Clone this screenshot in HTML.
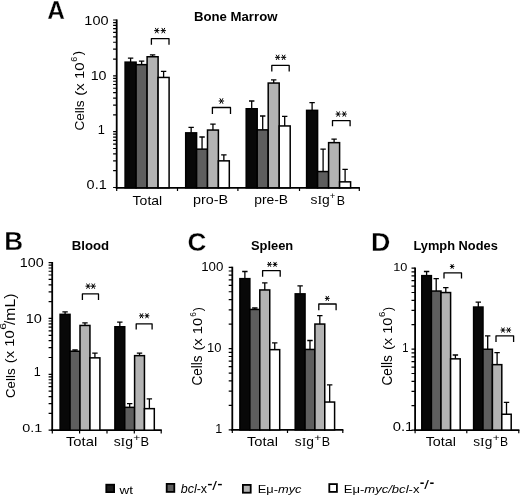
<!DOCTYPE html>
<html><head><meta charset="utf-8"><style>
html,body{margin:0;padding:0;background:#fff;width:520px;height:497px;overflow:hidden}
svg{display:block;filter:grayscale(100%)}
text{font-family:"Liberation Sans", sans-serif;fill:#000}
</style></head><body>
<svg width="520" height="497" viewBox="0 0 520 497">
<rect width="520" height="497" fill="#fff"/>
<line x1="116.7" y1="19.40999999999999" x2="116.7" y2="188.70000000000002" stroke="#000" stroke-width="1.8"/>
<path d="M113.10 187.50H116.70 M113.10 170.69H116.70 M113.10 160.86H116.70 M113.10 153.89H116.70 M113.10 148.48H116.70 M113.10 144.06H116.70 M113.10 140.32H116.70 M113.10 137.08H116.70 M113.10 134.22H116.70 M113.10 131.67H116.70 M113.10 114.86H116.70 M113.10 105.03H116.70 M113.10 98.06H116.70 M113.10 92.65H116.70 M113.10 88.23H116.70 M113.10 84.49H116.70 M113.10 81.25H116.70 M113.10 78.39H116.70 M113.10 75.84H116.70 M113.10 59.03H116.70 M113.10 49.20H116.70 M113.10 42.23H116.70 M113.10 36.82H116.70 M113.10 32.40H116.70 M113.10 28.66H116.70 M113.10 25.42H116.70 M113.10 22.56H116.70 M113.10 20.01H116.70" stroke="#000" stroke-width="1.2" fill="none"/>
<line x1="115.8" y1="187.8" x2="359.90000000000003" y2="187.8" stroke="#000" stroke-width="1.8"/>
<path d="M116.70 187.80V191.00 M177.50 187.80V191.00 M237.90 187.80V191.00 M299.50 187.80V191.00 M359.30 187.80V191.00" stroke="#000" stroke-width="1.2" fill="none"/>
<path d="M130.60 62.15V58.20M127.90 58.20H133.30" stroke="#000" stroke-width="1.3" fill="none"/>
<path d="M141.60 64.65V61.10M138.90 61.10H144.30" stroke="#000" stroke-width="1.3" fill="none"/>
<path d="M152.60 56.75V54.80M149.90 54.80H155.30" stroke="#000" stroke-width="1.3" fill="none"/>
<path d="M163.60 77.45V71.40M160.90 71.40H166.30" stroke="#000" stroke-width="1.3" fill="none"/>
<rect x="125.10" y="62.15" width="11.00" height="125.65" fill="#080808" stroke="#000" stroke-width="1.5"/>
<rect x="136.10" y="64.65" width="11.00" height="123.15" fill="#5e5e5e" stroke="#000" stroke-width="1.5"/>
<rect x="147.10" y="56.75" width="11.00" height="131.05" fill="#b3b3b3" stroke="#000" stroke-width="1.5"/>
<rect x="158.10" y="77.45" width="11.00" height="110.35" fill="#ffffff" stroke="#000" stroke-width="1.5"/>
<path d="M191.15 132.85V127.40M188.45 127.40H193.85" stroke="#000" stroke-width="1.3" fill="none"/>
<path d="M202.05 149.15V137.00M199.35 137.00H204.75" stroke="#000" stroke-width="1.3" fill="none"/>
<path d="M212.95 130.05V124.20M210.25 124.20H215.65" stroke="#000" stroke-width="1.3" fill="none"/>
<path d="M223.85 160.85V154.90M221.15 154.90H226.55" stroke="#000" stroke-width="1.3" fill="none"/>
<rect x="185.70" y="132.85" width="10.90" height="54.95" fill="#080808" stroke="#000" stroke-width="1.5"/>
<rect x="196.60" y="149.15" width="10.90" height="38.65" fill="#5e5e5e" stroke="#000" stroke-width="1.5"/>
<rect x="207.50" y="130.05" width="10.90" height="57.75" fill="#b3b3b3" stroke="#000" stroke-width="1.5"/>
<rect x="218.40" y="160.85" width="10.90" height="26.95" fill="#ffffff" stroke="#000" stroke-width="1.5"/>
<path d="M251.70 108.75V101.00M249.00 101.00H254.40" stroke="#000" stroke-width="1.3" fill="none"/>
<path d="M262.70 129.85V116.00M260.00 116.00H265.40" stroke="#000" stroke-width="1.3" fill="none"/>
<path d="M273.70 83.05V79.90M271.00 79.90H276.40" stroke="#000" stroke-width="1.3" fill="none"/>
<path d="M284.70 125.95V116.40M282.00 116.40H287.40" stroke="#000" stroke-width="1.3" fill="none"/>
<rect x="246.20" y="108.75" width="11.00" height="79.05" fill="#080808" stroke="#000" stroke-width="1.5"/>
<rect x="257.20" y="129.85" width="11.00" height="57.95" fill="#5e5e5e" stroke="#000" stroke-width="1.5"/>
<rect x="268.20" y="83.05" width="11.00" height="104.75" fill="#b3b3b3" stroke="#000" stroke-width="1.5"/>
<rect x="279.20" y="125.95" width="11.00" height="61.85" fill="#ffffff" stroke="#000" stroke-width="1.5"/>
<path d="M312.10 110.35V102.70M309.40 102.70H314.80" stroke="#000" stroke-width="1.3" fill="none"/>
<path d="M323.10 171.55V149.10M320.40 149.10H325.80" stroke="#000" stroke-width="1.3" fill="none"/>
<path d="M334.10 142.65V139.10M331.40 139.10H336.80" stroke="#000" stroke-width="1.3" fill="none"/>
<path d="M345.10 181.85V169.30M342.40 169.30H347.80" stroke="#000" stroke-width="1.3" fill="none"/>
<rect x="306.60" y="110.35" width="11.00" height="77.45" fill="#080808" stroke="#000" stroke-width="1.5"/>
<rect x="317.60" y="171.55" width="11.00" height="16.25" fill="#5e5e5e" stroke="#000" stroke-width="1.5"/>
<rect x="328.60" y="142.65" width="11.00" height="45.15" fill="#b3b3b3" stroke="#000" stroke-width="1.5"/>
<rect x="339.60" y="181.85" width="11.00" height="5.95" fill="#ffffff" stroke="#000" stroke-width="1.5"/>
<path d="M151.4 44.7V38.6H169.0V44.7" stroke="#000" stroke-width="1.3" fill="none" stroke-linejoin="round"/>
<path d="M154.20 30.60L159.40 30.60 M155.27 27.95L158.33 33.25 M158.33 27.95L155.27 33.25" stroke="#000" stroke-width="1.0" fill="none"/>
<path d="M160.70 30.60L165.90 30.60 M161.77 27.95L164.83 33.25 M164.83 27.95L161.77 33.25" stroke="#000" stroke-width="1.0" fill="none"/>
<path d="M212.4 113.9V107.5H230.5V113.9" stroke="#000" stroke-width="1.3" fill="none" stroke-linejoin="round"/>
<path d="M218.70 101.00L224.10 101.00 M219.81 98.25L222.99 103.75 M222.99 98.25L219.81 103.75" stroke="#000" stroke-width="1.0" fill="none"/>
<path d="M271.8 71.6V65.4H289.2V71.6" stroke="#000" stroke-width="1.3" fill="none" stroke-linejoin="round"/>
<path d="M275.10 57.35L280.20 57.35 M276.15 54.75L279.15 59.95 M279.15 54.75L276.15 59.95" stroke="#000" stroke-width="1.0" fill="none"/>
<path d="M281.10 57.35L286.20 57.35 M282.15 54.75L285.15 59.95 M285.15 54.75L282.15 59.95" stroke="#000" stroke-width="1.0" fill="none"/>
<path d="M332.5 126.2V120.6H350.1V126.2" stroke="#000" stroke-width="1.3" fill="none" stroke-linejoin="round"/>
<path d="M335.60 114.05L340.70 114.05 M336.65 111.45L339.65 116.65 M339.65 111.45L336.65 116.65" stroke="#000" stroke-width="1.0" fill="none"/>
<path d="M341.70 114.05L346.80 114.05 M342.75 111.45L345.75 116.65 M345.75 111.45L342.75 116.65" stroke="#000" stroke-width="1.0" fill="none"/>
<line x1="52.2" y1="261.99" x2="52.2" y2="431.09999999999997" stroke="#000" stroke-width="1.8"/>
<path d="M48.60 430.20H52.20 M48.60 413.38H52.20 M48.60 403.54H52.20 M48.60 396.56H52.20 M48.60 391.15H52.20 M48.60 386.72H52.20 M48.60 382.98H52.20 M48.60 379.74H52.20 M48.60 376.89H52.20 M48.60 374.33H52.20 M48.60 357.51H52.20 M48.60 347.67H52.20 M48.60 340.69H52.20 M48.60 335.28H52.20 M48.60 330.85H52.20 M48.60 327.11H52.20 M48.60 323.87H52.20 M48.60 321.02H52.20 M48.60 318.46H52.20 M48.60 301.64H52.20 M48.60 291.80H52.20 M48.60 284.82H52.20 M48.60 279.41H52.20 M48.60 274.98H52.20 M48.60 271.24H52.20 M48.60 268.00H52.20 M48.60 265.15H52.20 M48.60 262.59H52.20" stroke="#000" stroke-width="1.2" fill="none"/>
<line x1="51.300000000000004" y1="430.2" x2="161.79999999999998" y2="430.2" stroke="#000" stroke-width="1.8"/>
<path d="M52.30 430.20V433.40 M79.60 430.20V433.40 M107.00 430.20V433.40 M134.30 430.20V433.40 M161.20 430.20V433.40" stroke="#000" stroke-width="1.2" fill="none"/>
<path d="M65.08 314.35V311.80M62.38 311.80H67.78" stroke="#000" stroke-width="1.3" fill="none"/>
<path d="M75.02 351.25V350.00M72.32 350.00H77.72" stroke="#000" stroke-width="1.3" fill="none"/>
<path d="M84.97 325.45V322.90M82.27 322.90H87.67" stroke="#000" stroke-width="1.3" fill="none"/>
<path d="M94.92 357.85V353.10M92.22 353.10H97.62" stroke="#000" stroke-width="1.3" fill="none"/>
<rect x="60.10" y="314.35" width="9.95" height="115.85" fill="#080808" stroke="#000" stroke-width="1.5"/>
<rect x="70.05" y="351.25" width="9.95" height="78.95" fill="#5e5e5e" stroke="#000" stroke-width="1.5"/>
<rect x="80.00" y="325.45" width="9.95" height="104.75" fill="#b3b3b3" stroke="#000" stroke-width="1.5"/>
<rect x="89.95" y="357.85" width="9.95" height="72.35" fill="#ffffff" stroke="#000" stroke-width="1.5"/>
<path d="M119.83 326.75V322.20M117.12 322.20H122.53" stroke="#000" stroke-width="1.3" fill="none"/>
<path d="M129.68 407.35V403.60M126.98 403.60H132.38" stroke="#000" stroke-width="1.3" fill="none"/>
<path d="M139.53 355.65V353.10M136.83 353.10H142.22" stroke="#000" stroke-width="1.3" fill="none"/>
<path d="M149.38 408.65V398.80M146.68 398.80H152.07" stroke="#000" stroke-width="1.3" fill="none"/>
<rect x="114.90" y="326.75" width="9.85" height="103.45" fill="#080808" stroke="#000" stroke-width="1.5"/>
<rect x="124.75" y="407.35" width="9.85" height="22.85" fill="#5e5e5e" stroke="#000" stroke-width="1.5"/>
<rect x="134.60" y="355.65" width="9.85" height="74.55" fill="#b3b3b3" stroke="#000" stroke-width="1.5"/>
<rect x="144.45" y="408.65" width="9.85" height="21.55" fill="#ffffff" stroke="#000" stroke-width="1.5"/>
<path d="M82.4 299.9V293.9H98.5V299.9" stroke="#000" stroke-width="1.3" fill="none" stroke-linejoin="round"/>
<path d="M85.50 286.15L90.60 286.15 M86.55 283.55L89.55 288.75 M89.55 283.55L86.55 288.75" stroke="#000" stroke-width="1.0" fill="none"/>
<path d="M90.70 286.15L95.80 286.15 M91.75 283.55L94.75 288.75 M94.75 283.55L91.75 288.75" stroke="#000" stroke-width="1.0" fill="none"/>
<path d="M136.2 329.6V323.8H152.1V329.6" stroke="#000" stroke-width="1.3" fill="none" stroke-linejoin="round"/>
<path d="M139.10 315.80L143.91 315.80 M140.09 313.35L142.92 318.25 M142.92 313.35L140.09 318.25" stroke="#000" stroke-width="1.0" fill="none"/>
<path d="M144.59 315.80L149.40 315.80 M145.58 313.35L148.41 318.25 M148.41 313.35L145.58 318.25" stroke="#000" stroke-width="1.0" fill="none"/>
<line x1="232.3" y1="266.69999999999993" x2="232.3" y2="430.79999999999995" stroke="#000" stroke-width="1.8"/>
<path d="M228.70 429.90H232.30 M228.70 405.43H232.30 M228.70 391.11H232.30 M228.70 380.95H232.30 M228.70 373.07H232.30 M228.70 366.64H232.30 M228.70 361.19H232.30 M228.70 356.48H232.30 M228.70 352.32H232.30 M228.70 348.60H232.30 M228.70 324.13H232.30 M228.70 309.81H232.30 M228.70 299.65H232.30 M228.70 291.77H232.30 M228.70 285.34H232.30 M228.70 279.89H232.30 M228.70 275.18H232.30 M228.70 271.02H232.30 M228.70 267.30H232.30" stroke="#000" stroke-width="1.2" fill="none"/>
<line x1="231.4" y1="429.9" x2="343.40000000000003" y2="429.9" stroke="#000" stroke-width="1.8"/>
<path d="M232.30 429.90V433.10 M287.50 429.90V433.10 M342.80 429.90V433.10" stroke="#000" stroke-width="1.2" fill="none"/>
<path d="M244.88 278.65V271.50M242.18 271.50H247.57" stroke="#000" stroke-width="1.3" fill="none"/>
<path d="M254.82 309.45V308.00M252.12 308.00H257.52" stroke="#000" stroke-width="1.3" fill="none"/>
<path d="M264.78 289.95V282.80M262.08 282.80H267.48" stroke="#000" stroke-width="1.3" fill="none"/>
<path d="M274.73 349.65V342.90M272.03 342.90H277.43" stroke="#000" stroke-width="1.3" fill="none"/>
<rect x="239.90" y="278.65" width="9.95" height="151.25" fill="#080808" stroke="#000" stroke-width="1.5"/>
<rect x="249.85" y="309.45" width="9.95" height="120.45" fill="#5e5e5e" stroke="#000" stroke-width="1.5"/>
<rect x="259.80" y="289.95" width="9.95" height="139.95" fill="#b3b3b3" stroke="#000" stroke-width="1.5"/>
<rect x="269.75" y="349.65" width="9.95" height="80.25" fill="#ffffff" stroke="#000" stroke-width="1.5"/>
<path d="M300.12 293.85V285.90M297.43 285.90H302.82" stroke="#000" stroke-width="1.3" fill="none"/>
<path d="M309.98 349.45V340.50M307.28 340.50H312.68" stroke="#000" stroke-width="1.3" fill="none"/>
<path d="M319.82 324.05V315.70M317.12 315.70H322.52" stroke="#000" stroke-width="1.3" fill="none"/>
<path d="M329.68 402.05V384.80M326.98 384.80H332.38" stroke="#000" stroke-width="1.3" fill="none"/>
<rect x="295.20" y="293.85" width="9.85" height="136.05" fill="#080808" stroke="#000" stroke-width="1.5"/>
<rect x="305.05" y="349.45" width="9.85" height="80.45" fill="#5e5e5e" stroke="#000" stroke-width="1.5"/>
<rect x="314.90" y="324.05" width="9.85" height="105.85" fill="#b3b3b3" stroke="#000" stroke-width="1.5"/>
<rect x="324.75" y="402.05" width="9.85" height="27.85" fill="#ffffff" stroke="#000" stroke-width="1.5"/>
<path d="M262.6 276.7V270.7H280.2V276.7" stroke="#000" stroke-width="1.3" fill="none" stroke-linejoin="round"/>
<path d="M267.10 264.35L271.81 264.35 M268.07 261.95L270.84 266.75 M270.84 261.95L268.07 266.75" stroke="#000" stroke-width="1.0" fill="none"/>
<path d="M272.69 264.35L277.40 264.35 M273.66 261.95L276.43 266.75 M276.43 261.95L273.66 266.75" stroke="#000" stroke-width="1.0" fill="none"/>
<path d="M318.8 310.3V304.0H336.1V310.3" stroke="#000" stroke-width="1.3" fill="none" stroke-linejoin="round"/>
<path d="M324.90 298.40L329.70 298.40 M325.89 295.95L328.71 300.85 M328.71 295.95L325.89 300.85" stroke="#000" stroke-width="1.0" fill="none"/>
<line x1="415.1" y1="267.5" x2="415.1" y2="431.0" stroke="#000" stroke-width="1.8"/>
<path d="M411.50 430.10H415.10 M411.50 405.72H415.10 M411.50 391.45H415.10 M411.50 381.33H415.10 M411.50 373.48H415.10 M411.50 367.07H415.10 M411.50 361.65H415.10 M411.50 356.95H415.10 M411.50 352.81H415.10 M411.50 349.10H415.10 M411.50 324.72H415.10 M411.50 310.45H415.10 M411.50 300.33H415.10 M411.50 292.48H415.10 M411.50 286.07H415.10 M411.50 280.65H415.10 M411.50 275.95H415.10 M411.50 271.81H415.10 M411.50 268.10H415.10" stroke="#000" stroke-width="1.2" fill="none"/>
<line x1="414.20000000000005" y1="430.1" x2="519.4" y2="430.1" stroke="#000" stroke-width="1.8"/>
<path d="M415.10 430.10V433.30 M466.80 430.10V433.30 M518.80 430.10V433.30" stroke="#000" stroke-width="1.2" fill="none"/>
<path d="M426.60 275.65V271.50M423.90 271.50H429.30" stroke="#000" stroke-width="1.3" fill="none"/>
<path d="M436.20 291.05V278.70M433.50 278.70H438.90" stroke="#000" stroke-width="1.3" fill="none"/>
<path d="M445.80 292.55V287.60M443.10 287.60H448.50" stroke="#000" stroke-width="1.3" fill="none"/>
<path d="M455.40 358.85V355.00M452.70 355.00H458.10" stroke="#000" stroke-width="1.3" fill="none"/>
<rect x="421.80" y="275.65" width="9.60" height="154.45" fill="#080808" stroke="#000" stroke-width="1.5"/>
<rect x="431.40" y="291.05" width="9.60" height="139.05" fill="#5e5e5e" stroke="#000" stroke-width="1.5"/>
<rect x="441.00" y="292.55" width="9.60" height="137.55" fill="#b3b3b3" stroke="#000" stroke-width="1.5"/>
<rect x="450.60" y="358.85" width="9.60" height="71.25" fill="#ffffff" stroke="#000" stroke-width="1.5"/>
<path d="M478.30 307.05V302.10M475.60 302.10H481.00" stroke="#000" stroke-width="1.3" fill="none"/>
<path d="M487.70 349.25V335.80M485.00 335.80H490.40" stroke="#000" stroke-width="1.3" fill="none"/>
<path d="M497.10 364.65V352.60M494.40 352.60H499.80" stroke="#000" stroke-width="1.3" fill="none"/>
<path d="M506.50 414.25V402.30M503.80 402.30H509.20" stroke="#000" stroke-width="1.3" fill="none"/>
<rect x="473.60" y="307.05" width="9.40" height="123.05" fill="#080808" stroke="#000" stroke-width="1.5"/>
<rect x="483.00" y="349.25" width="9.40" height="80.85" fill="#5e5e5e" stroke="#000" stroke-width="1.5"/>
<rect x="492.40" y="364.65" width="9.40" height="65.45" fill="#b3b3b3" stroke="#000" stroke-width="1.5"/>
<rect x="501.80" y="414.25" width="9.40" height="15.85" fill="#ffffff" stroke="#000" stroke-width="1.5"/>
<path d="M444.0 278.5V272.9H461.5V278.5" stroke="#000" stroke-width="1.3" fill="none" stroke-linejoin="round"/>
<path d="M449.89 266.45L454.41 266.45 M450.82 264.15L453.48 268.75 M453.48 264.15L450.82 268.75" stroke="#000" stroke-width="1.0" fill="none"/>
<path d="M496.0 341.9V335.8H513.6V341.9" stroke="#000" stroke-width="1.3" fill="none" stroke-linejoin="round"/>
<path d="M500.50 330.05L505.41 330.05 M501.51 327.55L504.40 332.55 M504.40 327.55L501.51 332.55" stroke="#000" stroke-width="1.0" fill="none"/>
<path d="M506.19 330.05L511.10 330.05 M507.20 327.55L510.09 332.55 M510.09 327.55L507.20 332.55" stroke="#000" stroke-width="1.0" fill="none"/>
<rect x="106.30" y="484.70" width="7.80" height="7.40" fill="#1c1c1c" stroke="#000" stroke-width="1.8"/>
<rect x="166.70" y="483.90" width="7.60" height="8.00" fill="#5e5e5e" stroke="#000" stroke-width="1.8"/>
<rect x="242.90" y="484.90" width="7.80" height="7.80" fill="#b3b3b3" stroke="#000" stroke-width="1.8"/>
<rect x="329.30" y="484.10" width="7.60" height="7.80" fill="#ffffff" stroke="#000" stroke-width="1.8"/>
<text transform="matrix(0.24545 0 0 0.25735 47.164 18.757)" font-size="100" font-weight="bold" stroke="#fff" stroke-width="1.2">A</text>
<text transform="matrix(0.13211 0 0 0.12429 193.875 20.776)" font-size="100" font-weight="bold">Bone Marrow</text>
<text transform="matrix(0.14516 0 0 0.12113 84.339 24.979)" font-size="100" >100</text>
<text transform="matrix(0.14242 0 0 0.12535 90.661 80.275)" font-size="100" >10</text>
<text transform="matrix(0.12791 0 0 0.12754 97.677 133.800)" font-size="100" >1</text>
<text transform="matrix(0.14462 0 0 0.13662 86.622 189.163)" font-size="100" >0.1</text>
<text transform="matrix(0.13990 0 0 0.12973 132.620 204.570)" font-size="100" >Total</text>
<text transform="matrix(0.14378 0 0 0.11944 192.937 204.242)" font-size="100" >pro-B</text>
<text transform="matrix(0.13820 0 0 0.12222 254.271 204.433)" font-size="100" >pre-B</text>
<text transform="matrix(0.13876 0 0 0.13372 310.484 203.992)" font-size="100" >s<tspan font-family="Liberation Serif">I</tspan>g</text>
<text transform="matrix(0.09388 0 0 0.08571 329.831 198.771)" font-size="100" >+</text>
<text transform="matrix(0.12407 0 0 0.13333 336.807 204.500)" font-size="100" >B</text>
<text transform="matrix(0 -0.13598 0.13378 0 84.466 130.580)" font-size="100" >Cells</text>
<text transform="matrix(0 -0.14930 0.13191 0 84.130 95.696)" font-size="100" >(x 10</text>
<text transform="matrix(0 -0.08913 0.09296 0 76.807 61.746)" font-size="100" >6</text>
<text transform="matrix(0 -0.12692 0.13191 0 81.530 55.327)" font-size="100" >)</text>
<text transform="matrix(0.26167 0 0 0.25362 4.268 250.300)" font-size="100" font-weight="bold" stroke="#fff" stroke-width="1.2">B</text>
<text transform="matrix(0.13222 0 0 0.12703 71.774 249.673)" font-size="100" font-weight="bold">Blood</text>
<text transform="matrix(0.14323 0 0 0.11972 19.854 267.480)" font-size="100" >100</text>
<text transform="matrix(0.14545 0 0 0.13099 25.636 323.369)" font-size="100" >10</text>
<text transform="matrix(0.12558 0 0 0.12899 33.795 375.800)" font-size="100" >1</text>
<text transform="matrix(0.14385 0 0 0.11831 22.325 431.582)" font-size="100" >0.1</text>
<text transform="matrix(0.14803 0 0 0.12568 65.954 446.474)" font-size="100" >Total</text>
<text transform="matrix(0.13992 0 0 0.13256 113.630 446.416)" font-size="100" >s<tspan font-family="Liberation Serif">I</tspan>g</text>
<text transform="matrix(0.12041 0 0 0.09592 133.298 440.863)" font-size="100" >+</text>
<text transform="matrix(0.12870 0 0 0.12246 140.570 446.250)" font-size="100" >B</text>
<text transform="matrix(0 -0.13271 0.13649 0 14.764 397.964)" font-size="100" >Cells</text>
<text transform="matrix(0 -0.14789 0.13191 0 14.130 363.187)" font-size="100" >(x 10</text>
<text transform="matrix(0 -0.12391 0.09296 0 6.207 329.820)" font-size="100" >6</text>
<text transform="matrix(0 -0.15722 0.13913 0 15.100 325.000)" font-size="100" >/mL)</text>
<text transform="matrix(0.26032 0 0 0.25493 187.398 250.745)" font-size="100" font-weight="bold" stroke="#fff" stroke-width="1.2">C</text>
<text transform="matrix(0.12915 0 0 0.12234 250.913 249.931)" font-size="100" font-weight="bold">Spleen</text>
<text transform="matrix(0.13290 0 0 0.11972 201.237 271.380)" font-size="100" >100</text>
<text transform="matrix(0.12929 0 0 0.12394 207.066 352.176)" font-size="100" >10</text>
<text transform="matrix(0.12558 0 0 0.11884 215.295 433.200)" font-size="100" >1</text>
<text transform="matrix(0.14680 0 0 0.12432 246.906 446.176)" font-size="100" >Total</text>
<text transform="matrix(0.13876 0 0 0.13256 294.784 446.416)" font-size="100" >s<tspan font-family="Liberation Serif">I</tspan>g</text>
<text transform="matrix(0.12245 0 0 0.09388 314.288 440.745)" font-size="100" >+</text>
<text transform="matrix(0.12500 0 0 0.12246 321.800 446.250)" font-size="100" >B</text>
<text transform="matrix(0 -0.13505 0.14054 0 202.359 385.575)" font-size="100" >Cells</text>
<text transform="matrix(0 -0.14742 0.13191 0 201.930 350.585)" font-size="100" >(x 10</text>
<text transform="matrix(0 -0.08261 0.08592 0 196.014 316.713)" font-size="100" >6</text>
<text transform="matrix(0 -0.11923 0.13404 0 201.985 311.319)" font-size="100" >)</text>
<text transform="matrix(0.26833 0 0 0.25797 371.122 251.000)" font-size="100" font-weight="bold" stroke="#fff" stroke-width="1.2">D</text>
<text transform="matrix(0.12848 0 0 0.13085 413.401 250.352)" font-size="100" font-weight="bold">Lymph Nodes</text>
<text transform="matrix(0.12727 0 0 0.11549 393.182 270.785)" font-size="100" >10</text>
<text transform="matrix(0.11163 0 0 0.12029 402.207 351.800)" font-size="100" >1</text>
<text transform="matrix(0.14846 0 0 0.11972 392.706 430.680)" font-size="100" >0.1</text>
<text transform="matrix(0.14335 0 0 0.12432 425.713 446.176)" font-size="100" >Total</text>
<text transform="matrix(0.13721 0 0 0.13256 473.188 446.416)" font-size="100" >s<tspan font-family="Liberation Serif">I</tspan>g</text>
<text transform="matrix(0.11837 0 0 0.08980 492.708 440.708)" font-size="100" >+</text>
<text transform="matrix(0.12130 0 0 0.12246 500.030 446.250)" font-size="100" >B</text>
<text transform="matrix(0 -0.13645 0.14054 0 392.359 385.482)" font-size="100" >Cells</text>
<text transform="matrix(0 -0.14601 0.13191 0 391.730 350.076)" font-size="100" >(x 10</text>
<text transform="matrix(0 -0.09565 0.08451 0 385.115 317.078)" font-size="100" >6</text>
<text transform="matrix(0 -0.11923 0.13404 0 392.085 311.119)" font-size="100" >)</text>
<text transform="matrix(0.13434 0 0 0.11321 119.600 493.500)" font-size="100" >wt</text>
<text transform="matrix(0.12500 0 0 0.12432 180.750 493.476)" font-size="100" ><tspan font-style="italic">bcl</tspan>-x</text>
<text transform="matrix(0.16000 0 0 0.17500 207.360 489.825)" font-size="100" >-</text>
<text transform="matrix(0.16964 0 0 0.13514 212.250 489.865)" font-size="100" >/</text>
<text transform="matrix(0.16000 0 0 0.17500 217.360 489.825)" font-size="100" >-</text>
<text transform="matrix(0.12831 0 0 0.11304 257.773 493.000)" font-size="100" >E&#956;-<tspan font-style="italic">myc</tspan></text>
<text transform="matrix(0.13053 0 0 0.11377 343.756 492.500)" font-size="100" >E&#956;-<tspan font-style="italic">myc/bcl</tspan>-x</text>
<text transform="matrix(0.14000 0 0 0.20000 419.740 489.300)" font-size="100" >-</text>
<text transform="matrix(0.16786 0 0 0.13649 424.300 488.864)" font-size="100" >/</text>
<text transform="matrix(0.14400 0 0 0.20000 429.624 489.300)" font-size="100" >-</text>
</svg></body></html>
